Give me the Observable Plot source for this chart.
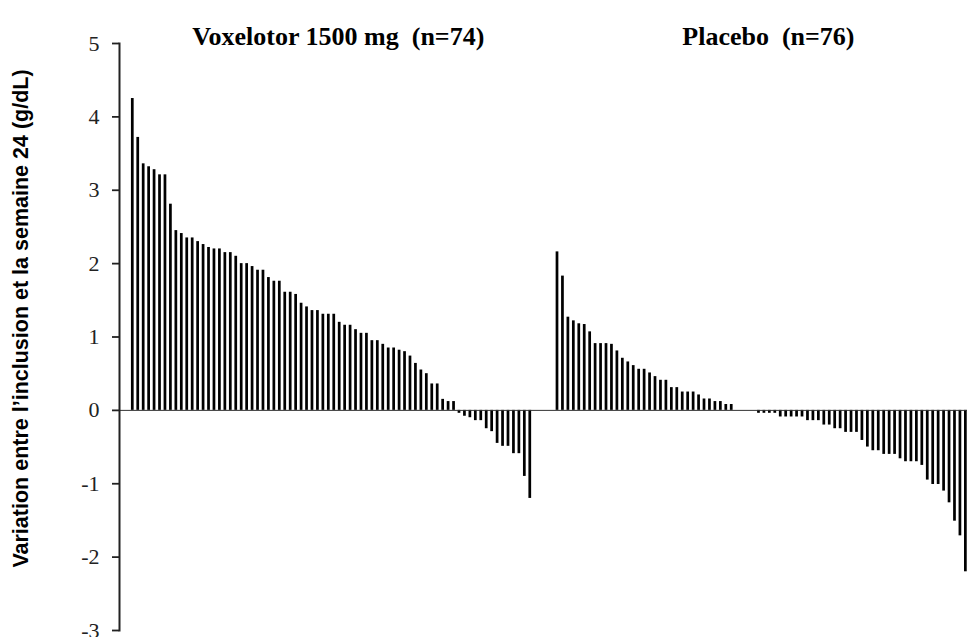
<!DOCTYPE html>
<html><head><meta charset="utf-8">
<script src="https://cdn.jsdelivr.net/npm/d3@7"></script>
<script src="https://cdn.jsdelivr.net/npm/@observablehq/plot@0.6"></script>
<style>
html,body{margin:0;padding:0;background:#fff}
#chart svg{display:block;background:#fff}
#chart svg text{white-space:pre}
#chart g[aria-label="y-axis tick label"] text{font-family:"Liberation Serif",serif;font-size:22px;fill:#222}
</style></head>
<body><div id="chart"></div>
<script>
const groups = ["Voxelotor 1500 mg  (n=74)", "Placebo  (n=76)"];
const voxelotor = [4.25, 3.72, 3.36, 3.32, 3.28, 3.21, 3.21, 2.81, 2.45, 2.41,
  2.35, 2.35, 2.30, 2.26, 2.22, 2.20, 2.20, 2.15, 2.15, 2.10,
  2.00, 2.00, 1.96, 1.91, 1.91, 1.81, 1.76, 1.76, 1.61, 1.61,
  1.58, 1.46, 1.41, 1.36, 1.36, 1.31, 1.31, 1.31, 1.20, 1.16,
  1.16, 1.10, 1.05, 1.05, 0.95, 0.95, 0.90, 0.85, 0.85, 0.82,
  0.80, 0.74, 0.64, 0.55, 0.50, 0.36, 0.36, 0.15, 0.12, 0.12,
  -0.04, -0.08, -0.10, -0.14, -0.14, -0.25, -0.29, -0.45, -0.49, -0.49,
  -0.59, -0.59, -0.90, -1.20];
const placebo = [2.16, 1.83, 1.27, 1.22, 1.18, 1.17, 1.07, 0.91, 0.91, 0.91,
  0.90, 0.81, 0.71, 0.66, 0.61, 0.56, 0.56, 0.51, 0.46, 0.41,
  0.41, 0.31, 0.31, 0.25, 0.25, 0.25, 0.21, 0.155, 0.155, 0.12,
  0.12, 0.08, 0.08, 0, 0, 0, 0,
  -0.04, -0.04, -0.04, -0.04, -0.09, -0.09, -0.09, -0.09, -0.09,
  -0.14, -0.14, -0.14, -0.20, -0.20, -0.25, -0.25, -0.30, -0.30, -0.30,
  -0.41, -0.50, -0.55, -0.55, -0.60, -0.60, -0.60, -0.66, -0.70, -0.70,
  -0.70, -0.75, -0.95, -1.01, -1.01, -1.10, -1.26, -1.51, -1.71, -2.20];
const yTicks = [-3, -2, -1, 0, 1, 2, 3, 4, 5];
const yLabel = "Variation entre l\u2019inclusion et la semaine 24 (g/dL)";

const gapSlots = 4;
const rows = [
  ...voxelotor.map((v, k) => ({slot: k, value: v, group: groups[0]})),
  ...placebo.map((v, k) => ({slot: voxelotor.length + gapSlots + k, value: v, group: groups[1]}))
];
const nSlots = voxelotor.length + gapSlots + placebo.length;
const titles = [
  {label: groups[0], slot: Math.round((voxelotor.length - 1) / 2)},
  {label: groups[1], slot: Math.round(voxelotor.length + gapSlots + (placebo.length - 1) / 2)}
];

const chart = Plot.plot({
  width: 967,
  height: 637,
  marginLeft: 119,
  marginRight: 0,
  marginTop: 43,
  marginBottom: 7,
  style: {background: "#fff"},
  x: {type: "band", domain: d3.range(nSlots), paddingInner: 0.5, paddingOuter: 1.12, align: 0.978, axis: null},
  y: {domain: [-3, 5], label: null},
  marks: [
    Plot.barY(rows, {x: "slot", y: "value", fill: "#000"}),
    Plot.ruleY([0], {stroke: "#333", strokeWidth: 1}),
    Plot.frame({anchor: "left", stroke: "#222", strokeWidth: 2}),
    Plot.axisY({ticks: yTicks, tickSize: 7, tickPadding: 13, tickFormat: d => `${d}`, stroke: "#222", strokeWidth: 1.8, label: null}),
    Plot.text([yLabel], {text: d => d, frameAnchor: "left", textAnchor: "middle", rotate: -90, dx: -98.5, dy: -18.5,
      fontFamily: "Liberation Sans", fontWeight: "bold", fontSize: 21.5, fill: "#000"}),
    Plot.text(titles, {x: "slot", text: "label", frameAnchor: "top", dy: -17, dx: 4,
      fontFamily: "Liberation Serif", fontWeight: "bold", fontSize: 26, fill: "#000"})
  ]
});
document.getElementById("chart").appendChild(chart);
</script>
</body></html>
